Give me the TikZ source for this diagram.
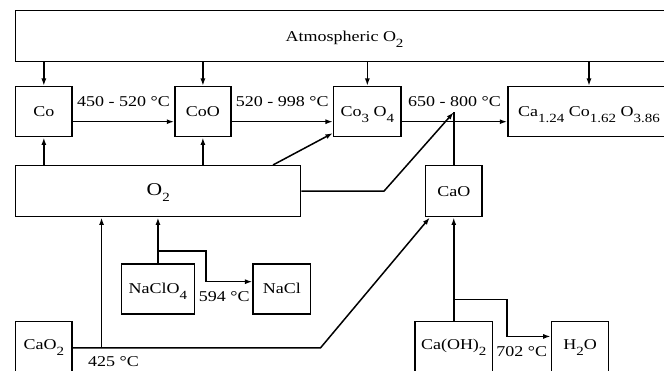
\documentclass[tikz,border=0pt]{standalone}
\usepackage{fontspec}
\setmainfont[FakeStretch=1.2]{Liberation Serif}
\usepackage{tikz}
\usetikzlibrary{arrows.meta, positioning}

\newcommand{\sbs}[1]{\raisebox{-6pt}{\fontsize{12.5}{12.5}\selectfont #1}}

\begin{document}
\begin{tikzpicture}[x=1pt, y=-1pt, line width=1.5pt, >={Latex[length=7.5pt,width=5pt]},
    every node/.style={font=\fontsize{15}{18}\selectfont},
    box/.style={draw, inner sep=2pt, minimum height=50pt, text height=10pt, text depth=0pt},
    lowbox/.style={box, anchor=north, minimum height=53pt, text height=11pt, text depth=8pt},
    lbl/.style={inner sep=2pt}]
        \useasboundingbox (0,0) rectangle (664,371);
        \clip (0,0) rectangle (664,371);

        \node[box, minimum width=657.6pt, minimum height=51pt] (atm) at (344.5,36.2) {Atmospheric O\sbs{2}};
        \node[box, minimum width=56.3pt] (co) at (43.85,111.7) {Co};
        \node[box, minimum width=55.8pt] (coo) at (202.9,111.7) {CoO};
        \node[box, minimum width=67.3pt] (co3o4) at (367.35,111.7) {Co\sbs{3} O\sbs{4}};
        \node[box, minimum width=162pt] (ca) at (589,111.7) {Ca\sbs{1.24} Co\sbs{1.62} O\sbs{3.86}};
        \node[box, minimum width=285pt, minimum height=51pt, text height=12pt, text depth=4pt,
              font=\fontsize{18}{20}\selectfont] (o2) at (158.2,191.2) {O\sbs{2}};
        \node[box, minimum width=56.3pt, minimum height=51pt] (cao) at (453.75,191.2) {CaO};
        \node[box, minimum width=72.9pt] (naclo4) at (157.95,289) {NaClO\sbs{4}};
        \node[box, minimum width=57.2pt] (nacl) at (281.8,289) {NaCl};
        \node[lowbox, minimum width=56.3pt] (cao2) at (43.85,320.7) {CaO\sbs{2}};
        \node[lowbox, minimum width=77.5pt] (caoh2) at (453.75,320.7) {Ca(OH)\sbs{2}};
        \node[lowbox, minimum width=57.1pt] (h2o) at (580,320.7) {H\sbs{2}O};

        \coordinate (jn) at ([yshift=52.7pt]cao.north);
        \coordinate (split) at ([xshift=28.8pt]cao2.east);

        \path[->]
        (atm.south -| co) edge (co)
        (atm.south -| coo) edge (coo)
        (atm.south -| co3o4) edge (co3o4)
        (atm.south -| ca) edge (ca)
        (o2.north -| co) edge (co)
        (o2.north -| coo) edge (coo)
        ([xshift=-28.4pt]o2.north east) edge ([yshift=4.4pt]co3o4.south west)
        (naclo4) edge (naclo4 |- o2.south)
        (split) edge (split |- o2.south)
        (caoh2) edge (cao);

        \draw[->] ([yshift=-10pt]co.east) -- node[lbl, above=12pt] (t1) {450 - 520 °C} ([yshift=-10pt]coo.west);
        \draw[->] ([yshift=-10pt]coo.east) -- node[lbl, above=12pt] (t2) {520 - 998 °C} ([yshift=-10pt]co3o4.west);
        \draw[->] ([yshift=-10pt]co3o4.east) -- node[lbl, above=12pt] (t3) {650 - 800 °C} ([yshift=-10pt]ca.west);

        \draw[->] (o2.east) -- ++(82.5,0) -- (jn);
        \draw (cao) -- (jn);

        \draw[->] (cao2.east) -- ++(247.7,0) -- ([xshift=5pt]cao.south west);
        \node[lbl, anchor=north] (t425) at ([xshift=12pt,yshift=-6pt]split) {425 °C};

        % decompositions
        \draw[->] ([yshift=12.3pt]naclo4.north) -- ++(48.2,0) |- node[lbl, pos=0.75, below=7pt, xshift=-5pt] (t594) {594 °C} ([yshift=7.3pt]nacl.west);
        \draw[->] ([yshift=21.4pt]caoh2.north) -- ++(53.15,0) |- node[lbl, pos=0.75, below=7pt, xshift=-7pt] (t702) {702 °C} ([yshift=11.5pt]h2o.west);
\end{tikzpicture}
\end{document}
